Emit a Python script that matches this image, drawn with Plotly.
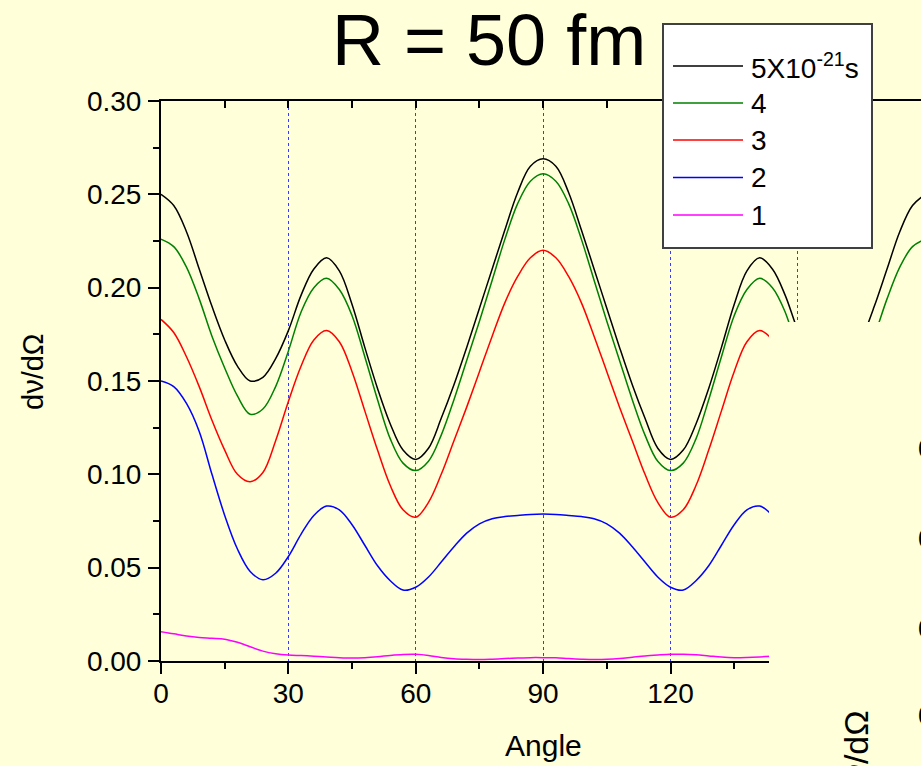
import plotly.graph_objects as go

# ---------------- data ----------------
ANGLE = list(range(0, 181, 3))

T5 = [0.250, 0.244, 0.230, 0.210, 0.190, 0.172, 0.158, 0.150, 0.152, 0.162, 0.177,
      0.196, 0.210, 0.216, 0.209, 0.191, 0.168, 0.146, 0.127, 0.113, 0.108,
      0.114, 0.130, 0.148, 0.168, 0.189, 0.210, 0.231, 0.251, 0.265, 0.269,
      0.265, 0.251, 0.231, 0.210, 0.189, 0.168, 0.148, 0.130, 0.114, 0.108,
      0.113, 0.127, 0.146, 0.168, 0.191, 0.209, 0.216, 0.210, 0.196, 0.177,
      0.162, 0.152, 0.150, 0.158, 0.172, 0.190, 0.210, 0.230, 0.244, 0.250]

T4 = [0.226, 0.222, 0.211, 0.194, 0.174, 0.157, 0.142, 0.1322, 0.135, 0.147, 0.166,
      0.187, 0.200, 0.205, 0.199, 0.185, 0.163, 0.140, 0.119, 0.106, 0.102,
      0.107, 0.121, 0.140, 0.161, 0.182, 0.204, 0.226, 0.245, 0.257, 0.261,
      0.257, 0.245, 0.226, 0.204, 0.182, 0.161, 0.140, 0.121, 0.107, 0.102,
      0.106, 0.119, 0.140, 0.163, 0.185, 0.199, 0.205, 0.200, 0.187, 0.166,
      0.147, 0.135, 0.1322, 0.142, 0.157, 0.174, 0.194, 0.211, 0.222, 0.226]

T3 = [0.183, 0.176, 0.163, 0.147, 0.129, 0.113, 0.100, 0.096, 0.101, 0.118, 0.139,
      0.158, 0.172, 0.177, 0.171, 0.155, 0.134, 0.113, 0.094, 0.081, 0.077,
      0.085, 0.100, 0.118, 0.136, 0.155, 0.174, 0.192, 0.206, 0.216, 0.220,
      0.216, 0.206, 0.192, 0.174, 0.155, 0.136, 0.118, 0.100, 0.085, 0.077,
      0.081, 0.094, 0.113, 0.134, 0.155, 0.171, 0.177, 0.172, 0.158, 0.139,
      0.118, 0.101, 0.096, 0.100, 0.113, 0.129, 0.147, 0.163, 0.176, 0.183]

T2 = [0.150, 0.147, 0.138, 0.123, 0.100, 0.078, 0.060, 0.048, 0.0435, 0.047, 0.056,
      0.068, 0.078, 0.083, 0.081, 0.073, 0.062, 0.051, 0.043, 0.038, 0.0395,
      0.045, 0.053, 0.0612, 0.0685, 0.0735, 0.0762, 0.0774, 0.078, 0.0785, 0.0787,
      0.0785, 0.078, 0.0774, 0.0762, 0.0735, 0.0685, 0.0612, 0.053, 0.045, 0.0395,
      0.038, 0.043, 0.051, 0.062, 0.073, 0.081, 0.083, 0.078, 0.068, 0.056,
      0.047, 0.0435, 0.048, 0.060, 0.078, 0.100, 0.123, 0.138, 0.147, 0.150]

T1 = [0.0157, 0.0146, 0.0134, 0.0126, 0.0122, 0.0117, 0.0100, 0.0076, 0.0053, 0.0039, 0.0032,
      0.0029, 0.0026, 0.0022, 0.0018, 0.0016, 0.0018, 0.0023, 0.0030, 0.0035, 0.0036,
      0.0030, 0.0019, 0.0012, 0.0009, 0.0008, 0.0010, 0.0013, 0.0016, 0.0018, 0.0018,
      0.0017, 0.0013, 0.0010, 0.0008, 0.0009, 0.0013, 0.0020, 0.0027, 0.0032, 0.0036,
      0.0036, 0.0033, 0.0027, 0.0021, 0.0018, 0.0019, 0.0022, 0.0026, 0.0030, 0.0033,
      0.0035, 0.0036, 0.0036, 0.0035, 0.0034, 0.0033, 0.0032, 0.0032, 0.0032, 0.0032]

SERIES_NAMES = ["5X10<sup>-21</sup>s", "4", "3", "2", "1"]
SERIES = [T5, T4, T3, T2, T1]
COLORS = ["#000000", "#008000", "#FF0000", "#0000FF", "#FF00FF"]

TITLE = "R = 50 fm"
XTITLE = "Angle"
YTITLE = "dν/dΩ"

BG = "#FFFFDA"
FONT = "Liberation Sans, Arial, sans-serif"

# ---------------- geometry helpers (pixel -> paper) ----------------
L, R, T, B = 161, 921, 101, 661
W, H = 921, 766


def PX(x):
    return (x - L) / (R - L)


def PY(y):
    return (B - y) / (B - T)


fig = go.Figure()

# draw in reverse so black is on top
for name, vals, col in reversed(list(zip(SERIES_NAMES, SERIES, COLORS))):
    fig.add_trace(go.Scatter(x=ANGLE, y=vals, mode="lines", name=name,
                             line=dict(color=col, width=1.5, shape="spline", smoothing=1.0),
                             showlegend=False))

# dummy trace for the top axis
fig.add_trace(go.Scatter(x=[None], y=[None], xaxis="x2", yaxis="y",
                         showlegend=False, hoverinfo="skip"))

XR = [0, 179]

fig.update_layout(
    width=W, height=H,
    margin=dict(l=L, r=W - R, t=T, b=H - B, pad=0),
    paper_bgcolor=BG, plot_bgcolor=BG,
    font=dict(family=FONT, color="black", size=28),
    showlegend=False,
    xaxis=dict(range=XR, dtick=30, tick0=0, ticks="outside", ticklen=11, tickwidth=2,
               tickcolor="black", showline=True, linecolor="black", linewidth=2,
               showgrid=True, gridcolor="#3a3aff", griddash="dot", gridwidth=1,
               zeroline=False, tickfont=dict(size=28), ticklabelstandoff=-5,
               minor=dict(dtick=15, tick0=0, ticks="outside", ticklen=6, tickwidth=2,
                          tickcolor="black", showgrid=False)),
    xaxis2=dict(range=XR, overlaying="x", side="top", anchor="y", dtick=15, tick0=0,
                ticks="inside", ticklen=7, tickwidth=2, tickcolor="black",
                showticklabels=False, showgrid=False, showline=True,
                linecolor="black", linewidth=2, zeroline=False),
    yaxis=dict(range=[0, 0.30], dtick=0.05, tick0=0, tickformat=".2f",
               ticks="outside", ticklen=11, tickwidth=2, tickcolor="black",
               showline=True, linecolor="black", linewidth=2, showgrid=False,
               zeroline=False, tickfont=dict(size=28), ticklabelstandoff=1,
               minor=dict(dtick=0.025, tick0=0, ticks="outside", ticklen=6, tickwidth=2,
                          tickcolor="black", showgrid=False)),
)

shapes = []
annotations = []

# region of the slide covered by an overlapping panel (bottom right)
shapes.append(dict(type="rect", xref="paper", yref="paper", layer="above",
                   x0=PX(769), x1=PX(940), y0=PY(322), y1=PY(790),
                   fillcolor=BG, line=dict(width=0)))

# legend box
shapes.append(dict(type="rect", xref="paper", yref="paper", layer="above",
                   x0=PX(663), x1=PX(872), y0=PY(24), y1=PY(248),
                   fillcolor="white", line=dict(color="#404040", width=2)))
ROWS = [66, 103, 140, 177.5, 215]
for name, col, ry in zip(SERIES_NAMES, COLORS, ROWS):
    shapes.append(dict(type="line", xref="paper", yref="paper", layer="above",
                       x0=PX(673), x1=PX(743), y0=PY(ry), y1=PY(ry),
                       line=dict(color=col, width=1.5)))
    annotations.append(dict(text=name, xref="paper", yref="paper", x=PX(749), y=PY(ry),
                            xanchor="left", yanchor="middle", showarrow=False,
                            font=dict(size=28, family=FONT, color="black")))

# title and axis titles
annotations.append(dict(text=TITLE, xref="paper", yref="paper", x=PX(489), y=PY(40),
                        xanchor="center", yanchor="middle", showarrow=False,
                        font=dict(size=72, family=FONT, color="black")))
annotations.append(dict(text=XTITLE, xref="paper", yref="paper", x=PX(543), y=PY(745),
                        xanchor="center", yanchor="middle", showarrow=False,
                        font=dict(size=30, family=FONT, color="black")))
annotations.append(dict(text=YTITLE, xref="paper", yref="paper", x=PX(33), y=PY(372),
                        xanchor="center", yanchor="middle", showarrow=False, textangle=-90,
                        font=dict(size=29, family=FONT, color="black")))

# fragments of the overlapping panel's labels (cut by the slide edge)
for ty, lab in zip([448, 538, 628, 715], ["0.20", "0.15", "0.10", "0.05"]):
    annotations.append(dict(text=lab, xref="paper", yref="paper", x=PX(916), y=PY(ty),
                            xanchor="left", yanchor="middle", showarrow=False,
                            font=dict(size=28, family=FONT, color="black")))
annotations.append(dict(text=YTITLE, xref="paper", yref="paper", x=PX(856), y=PY(755),
                        xanchor="center", yanchor="middle", showarrow=False, textangle=-90,
                        font=dict(size=34, family=FONT, color="black")))

fig.update_layout(shapes=shapes, annotations=annotations)

fig.write_html("out.html")
